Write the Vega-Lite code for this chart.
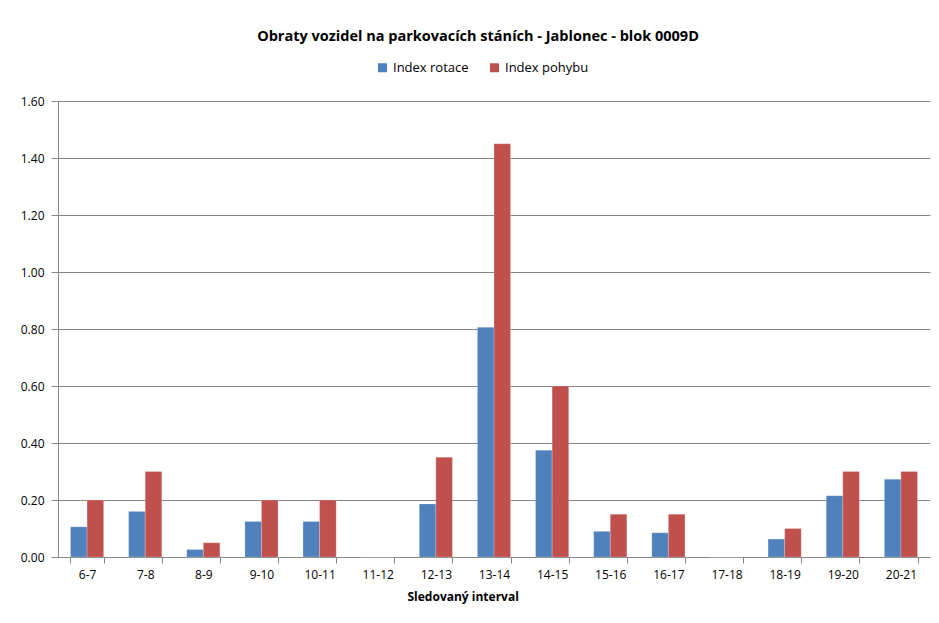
{
  "$schema": "https://vega.github.io/schema/vega-lite/v6.json",
  "autosize": "none",
  "width": 872,
  "height": 456,
  "padding": {"left": 58, "top": 101, "right": 9, "bottom": 66},
  "background": "white",
  "title": {
    "text": "Obraty vozidel na parkovacích stáních - Jablonec - blok 0009D",
    "font": "Open Sans",
    "fontSize": 14.5,
    "fontWeight": "bold",
    "color": "#000000",
    "anchor": "middle",
    "frame": "group",
    "offset": 17,
    "dx": -16
  },
  "data": {
    "values": [
      {"interval": "6-7", "serie": "Index rotace", "value": 0.106},
      {"interval": "6-7", "serie": "Index pohybu", "value": 0.2},
      {"interval": "7-8", "serie": "Index rotace", "value": 0.16},
      {"interval": "7-8", "serie": "Index pohybu", "value": 0.3},
      {"interval": "8-9", "serie": "Index rotace", "value": 0.026},
      {"interval": "8-9", "serie": "Index pohybu", "value": 0.05},
      {"interval": "9-10", "serie": "Index rotace", "value": 0.125},
      {"interval": "9-10", "serie": "Index pohybu", "value": 0.2},
      {"interval": "10-11", "serie": "Index rotace", "value": 0.125},
      {"interval": "10-11", "serie": "Index pohybu", "value": 0.2},
      {"interval": "11-12", "serie": "Index rotace", "value": 0},
      {"interval": "11-12", "serie": "Index pohybu", "value": 0},
      {"interval": "12-13", "serie": "Index rotace", "value": 0.186},
      {"interval": "12-13", "serie": "Index pohybu", "value": 0.35},
      {"interval": "13-14", "serie": "Index rotace", "value": 0.806},
      {"interval": "13-14", "serie": "Index pohybu", "value": 1.45},
      {"interval": "14-15", "serie": "Index rotace", "value": 0.375},
      {"interval": "14-15", "serie": "Index pohybu", "value": 0.6},
      {"interval": "15-16", "serie": "Index rotace", "value": 0.09},
      {"interval": "15-16", "serie": "Index pohybu", "value": 0.15},
      {"interval": "16-17", "serie": "Index rotace", "value": 0.085},
      {"interval": "16-17", "serie": "Index pohybu", "value": 0.15},
      {"interval": "17-18", "serie": "Index rotace", "value": 0},
      {"interval": "17-18", "serie": "Index pohybu", "value": 0},
      {"interval": "18-19", "serie": "Index rotace", "value": 0.063},
      {"interval": "18-19", "serie": "Index pohybu", "value": 0.1},
      {"interval": "19-20", "serie": "Index rotace", "value": 0.215},
      {"interval": "19-20", "serie": "Index pohybu", "value": 0.3},
      {"interval": "20-21", "serie": "Index rotace", "value": 0.273},
      {"interval": "20-21", "serie": "Index pohybu", "value": 0.3}
    ]
  },
  "mark": {"type": "bar", "stroke": "#ffffff", "strokeOpacity": 0.35, "strokeWidth": 0.6},
  "encoding": {
    "x": {
      "field": "interval",
      "type": "nominal",
      "sort": null,
      "scale": {"paddingInner": 0.43, "paddingOuter": 0.215},
      "axis": {
        "title": "Sledovaný interval",
        "titleFont": "Open Sans",
        "titleFontSize": 12,
        "titleFontWeight": "bold",
        "titleColor": "#000000",
        "titleAnchor": "start",
        "titleX": 349,
        "titlePadding": 11,
        "labelAngle": 0,
        "labelFont": "Open Sans",
        "labelFontSize": 12,
        "labelColor": "#000000",
        "labelPadding": 6,
        "tickBand": "extent",
        "tickSize": 6,
        "tickColor": "#868686",
        "domainColor": "#868686",
        "domainWidth": 1,
        "grid": false
      }
    },
    "xOffset": {"field": "serie", "type": "nominal", "sort": ["Index rotace", "Index pohybu"]},
    "y": {
      "field": "value",
      "type": "quantitative",
      "scale": {"domain": [0, 1.6], "nice": false},
      "axis": {
        "title": null,
        "values": [0, 0.2, 0.4, 0.6, 0.8, 1.0, 1.2, 1.4, 1.6],
        "format": ".2f",
        "labelFont": "Open Sans",
        "labelFontSize": 12,
        "labelColor": "#000000",
        "labelPadding": 7,
        "tickSize": 7,
        "tickColor": "#868686",
        "domainColor": "#868686",
        "grid": true,
        "gridColor": "#868686",
        "gridWidth": 1
      }
    },
    "color": {
      "field": "serie",
      "type": "nominal",
      "sort": ["Index rotace", "Index pohybu"],
      "scale": {"domain": ["Index rotace", "Index pohybu"], "range": ["#4F81BD", "#C0504D"]},
      "legend": {
        "title": null,
        "orient": "none",
        "direction": "horizontal",
        "legendX": 318,
        "legendY": -40,
        "symbolType": "square",
        "symbolSize": 81,
        "symbolStrokeWidth": 0,
        "labelFont": "Open Sans",
        "labelFontSize": 13,
        "labelColor": "#000000",
        "labelOffset": 4,
        "columnPadding": 19
      }
    }
  },
  "config": {
    "view": {"stroke": null},
    "axis": {"domainWidth": 1, "tickWidth": 1}
  }
}
